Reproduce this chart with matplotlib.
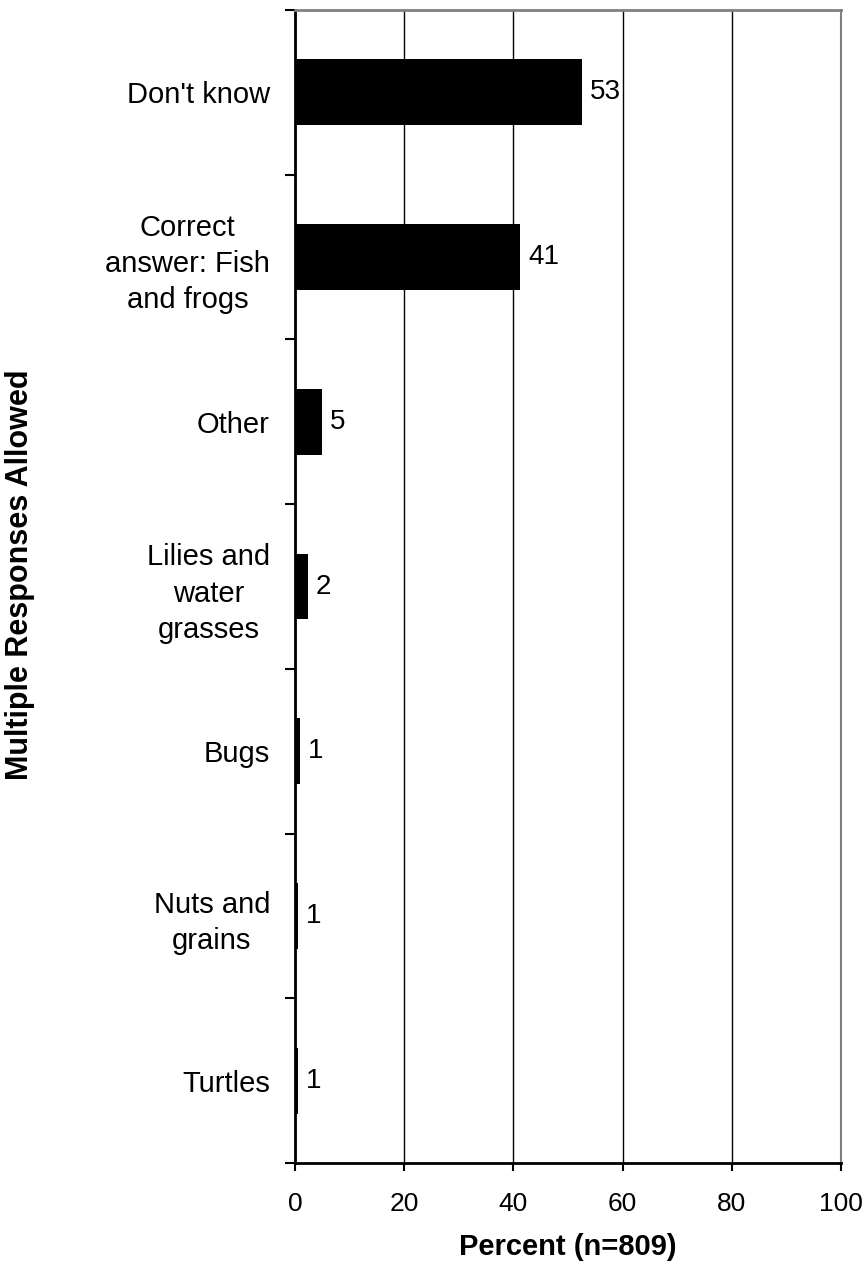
import matplotlib.pyplot as plt

plt.rcParams['font.family'] = ['Liberation Sans', 'DejaVu Sans']

categories = ["Don't know", "Correct\nanswer: Fish\nand frogs", "Other",
              "Lilies and\nwater\ngrasses", "Bugs", "Nuts and\ngrains", "Turtles"]
percent = [52.5, 41.2, 4.9, 2.3, 0.9, 0.5, 0.5]
value_labels = ["53", "41", "5", "2", "1", "1", "1"]
x_ticks = [0, 20, 40, 60, 80, 100]

fig = plt.figure(figsize=(8.67, 12.71), dpi=100)
ax = fig.add_axes([295 / 867, 1 - 1163 / 1271, 546 / 867, 1153 / 1271])

pos = list(range(len(categories)))
ax.barh(pos, percent, height=0.4, color='black', zorder=3)
for p, v, lab in zip(pos, percent, value_labels):
    ax.text(v + 1.5, p, lab, va='center', ha='left', fontsize=20, zorder=4)

ax.set_ylim(len(categories) - 0.5, -0.5)
ax.set_xlim(0, 100)
ax.set_xticks(x_ticks)
ax.set_xticklabels([str(t) for t in x_ticks], fontsize=19)
ax.tick_params(axis='x', length=6, width=1.5, pad=15)

# category labels sit between the boundary ticks
ax.set_yticks(pos)
ax.set_yticklabels(categories, fontsize=21, ha='right', multialignment='center',
                   linespacing=1.37)
ax.tick_params(axis='y', which='major', length=0, pad=18)
ax.set_yticks([i - 0.5 for i in range(len(categories) + 1)], minor=True)
ax.tick_params(axis='y', which='minor', length=7, width=1.5)

ax.xaxis.grid(True, color='black', linewidth=1, zorder=0)
ax.spines['left'].set_linewidth(2)
ax.spines['bottom'].set_linewidth(2)
ax.spines['top'].set_color('#808080')
ax.spines['right'].set_color('#808080')
ax.spines['top'].set_linewidth(2)
ax.spines['right'].set_linewidth(1.5)

ax.set_xlabel('Percent (n=809)', fontsize=21, fontweight='bold', va='center')
ax.xaxis.set_label_coords(0.5, -(1247 - 1163) / 1153)
fig.text(20 / 867, 1 - 575 / 1271, 'Multiple Responses Allowed', rotation=90,
         fontsize=22, fontweight='bold', va='center', ha='center')

fig.savefig('out.png', dpi=100)
